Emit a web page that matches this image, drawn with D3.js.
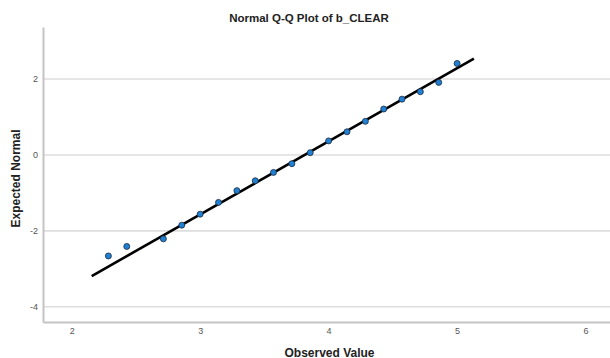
<!DOCTYPE html>
<html>
<head>
<meta charset="utf-8">
<script src="https://cdn.jsdelivr.net/npm/d3@7"></script>
<style>
  html, body { margin: 0; padding: 0; background: #fff; }
  svg { display: block; font-family: "Liberation Sans", Arial, sans-serif; }
</style>
</head>
<body>
<svg id="chart" width="610" height="358"></svg>
<script>
// Observed scale means (7-item averages) and their expected normal scores
const observed = [2.286, 2.429, 2.714, 2.857, 3.0, 3.143, 3.286, 3.429, 3.571, 3.714,
                  3.857, 4.0, 4.143, 4.286, 4.429, 4.571, 4.714, 4.857, 5.0];
const expected = [-2.66, -2.41, -2.21, -1.85, -1.56, -1.25, -0.94, -0.68, -0.46, -0.23,
                  0.06, 0.37, 0.61, 0.885, 1.21, 1.47, 1.665, 1.91, 2.41];
// Reference line of the normal distribution (start and end)
const refLineX = [2.156, 5.131];
const refLineY = [-3.19, 2.535];
const xTicks = [2, 3, 4, 5, 6];
const yTicks = [-4, -2, 0, 2];

const svg = d3.select("#chart");
const plotLeft = 43, plotRight = 610, plotTop = 27, plotBottom = 322;

const x = d3.scaleLinear().domain([1.777, 6.19]).range([plotLeft, plotRight]);
const y = d3.scaleLinear().domain([-4.4, 3.37]).range([plotBottom, plotTop]);
const plainNumber = d => String(d);

// Horizontal gridlines
svg.append("g").selectAll("line").data(yTicks).join("line")
  .attr("x1", plotLeft).attr("x2", plotRight)
  .attr("y1", d => y(d)).attr("y2", d => y(d))
  .attr("stroke", "#dedede").attr("stroke-width", 1.6);

// Axes
const yAxis = d3.axisLeft(y).tickValues(yTicks).tickFormat(plainNumber).tickSize(0).tickPadding(5);
const gy = svg.append("g").attr("transform", `translate(${plotLeft},0)`).call(yAxis);
gy.select(".domain").attr("stroke", "#c4c4c4").attr("stroke-width", 2);
gy.selectAll("text").attr("fill", "#555").attr("font-size", 9);

const xAxis = d3.axisBottom(x).tickValues(xTicks).tickFormat(plainNumber).tickSize(0).tickPadding(6);
const gx = svg.append("g").attr("transform", `translate(0,${plotBottom})`).call(xAxis);
gx.select(".domain").attr("stroke", "#c4c4c4").attr("stroke-width", 2);
gx.selectAll("text").attr("fill", "#555").attr("font-size", 9);

// Reference line
svg.append("line")
  .attr("x1", x(refLineX[0])).attr("y1", y(refLineY[0]))
  .attr("x2", x(refLineX[1])).attr("y2", y(refLineY[1]))
  .attr("stroke", "#000").attr("stroke-width", 2.6);

// Points
svg.append("g").selectAll("circle").data(observed).join("circle")
  .attr("cx", d => x(d))
  .attr("cy", (d, i) => y(expected[i]))
  .attr("r", 3)
  .attr("fill", "#1f80d4")
  .attr("stroke", "#1a2a3a")
  .attr("stroke-width", 0.8);

// Titles
svg.append("text").attr("x", 309).attr("y", 21.5).attr("text-anchor", "middle")
  .attr("font-size", 11.5).attr("font-weight", "bold").attr("fill", "#222")
  .text("Normal Q-Q Plot of b_CLEAR");
svg.append("text").attr("x", 329.5).attr("y", 356.5).attr("text-anchor", "middle")
  .attr("font-size", 12).attr("font-weight", "bold").attr("fill", "#222")
  .text("Observed Value");
svg.append("text").attr("transform", "translate(20,178.5) rotate(-90)")
  .attr("text-anchor", "middle")
  .attr("font-size", 12).attr("font-weight", "bold").attr("fill", "#222")
  .text("Expected Normal");
</script>
</body>
</html>
